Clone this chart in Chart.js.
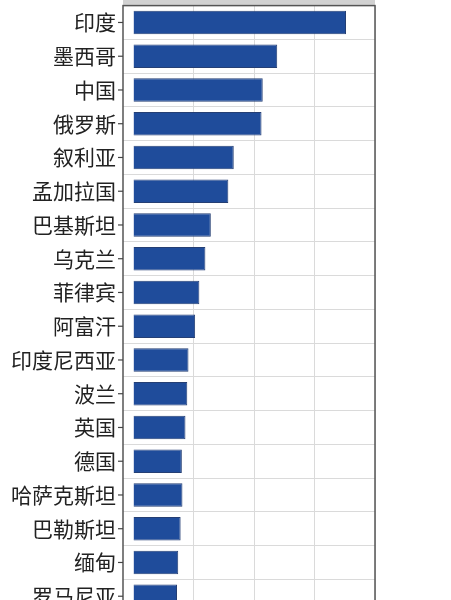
<!DOCTYPE html>
<html>
<head>
<meta charset="utf-8">
<script src="https://cdn.jsdelivr.net/npm/chart.js@4"></script>
<style>
html,body{margin:0;padding:0;background:#fff;overflow:hidden;}
#wrap{width:451px;height:640px;position:relative;}
</style>
</head>
<body>
<div id="wrap"><canvas id="c" width="451" height="640"></canvas></div>
<script>
const countries = ["印度","墨西哥","中国","俄罗斯","叙利亚","孟加拉国","巴基斯坦","乌克兰","菲律宾","阿富汗","印度尼西亚","波兰","英国","德国","哈萨克斯坦","巴勒斯坦","缅甸","罗马尼亚"];
const values = [17.6,11.9,10.7,10.6,8.3,7.85,6.4,5.95,5.45,5.1,4.55,4.45,4.3,4.0,4.05,3.9,3.7,3.6];
const xGridTicks = [5,10,15,20];

const framePlugin = {
  id:'frame',
  beforeDraw(chart){
    const {ctx, chartArea:a} = chart;
    ctx.save();
    ctx.fillStyle = '#d2d2d2';
    ctx.fillRect(a.left, 0, a.right - a.left, a.top);
    ctx.restore();
  },
  afterDraw(chart){
    const {ctx, chartArea:a} = chart;
    const ys = chart.scales.y;
    ctx.save();
    ctx.strokeStyle = '#555';
    ctx.lineWidth = 1.5;
    ctx.strokeRect(a.left, a.top, a.right - a.left, a.bottom - a.top);
    ctx.lineWidth = 1.2;
    ctx.strokeStyle = '#444';
    ys.ticks.forEach((t,i)=>{
      const y = ys.getPixelForTick(i);
      ctx.beginPath();
      ctx.moveTo(a.left - 5, y);
      ctx.lineTo(a.left, y);
      ctx.stroke();
    });
    ctx.restore();
  }
};

new Chart(document.getElementById('c'), {
  type:'bar',
  data:{
    labels: countries,
    datasets:[{
      data: values,
      backgroundColor:'#1f4c9b',
      borderColor:'#253f74',
      borderWidth:1,
      categoryPercentage:1,
      barPercentage:0.7
    }]
  },
  options:{
    indexAxis:'y',
    responsive:false,
    animation:false,
    devicePixelRatio:1,
    layout:{padding:{top:5.6,left:0,right:76,bottom:26.9}},
    plugins:{legend:{display:false},tooltip:{enabled:false}},
    scales:{
      x:{
        min:-0.875, max:20,
        afterBuildTicks(s){ s.ticks = xGridTicks.map(v=>({value:v})); },
        afterFit(s){ s.height = 0; s.paddingLeft = 0; s.paddingRight = 0; },
        ticks:{display:false},
        grid:{color:'#dadada', lineWidth:1, drawTicks:false},
        border:{display:false}
      },
      y:{
        afterFit(s){ s.width = 123; s.paddingTop = 0; s.paddingBottom = 0; },
        ticks:{
          color:'#222',
          padding:7,
          font:{family:'"Noto Sans CJK SC", sans-serif', size:21}
        },
        grid:{color:'#dadada', lineWidth:1, drawTicks:false, offset:true},
        border:{display:false}
      }
    }
  },
  plugins:[framePlugin]
});
</script>
</body>
</html>
